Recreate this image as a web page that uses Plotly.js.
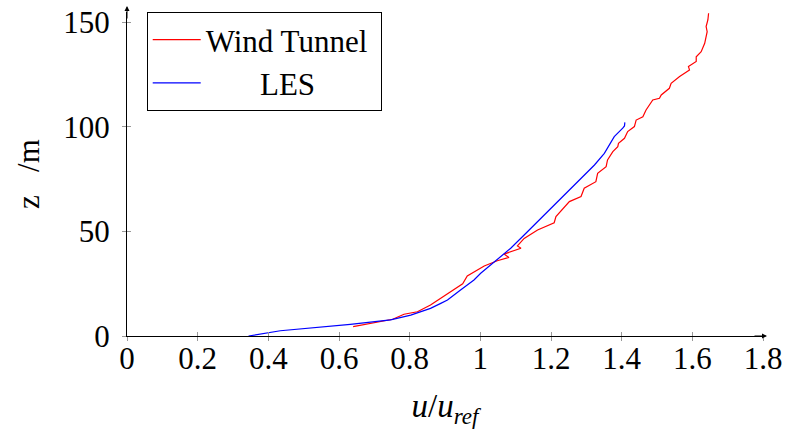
<!DOCTYPE html>
<html>
<head>
<meta charset="utf-8">
<script src="https://cdn.plot.ly/plotly-3.0.1.min.js"></script>
<style>html,body{margin:0;padding:0;background:#fff;}#chart{width:785px;height:438px;}</style>
</head>
<body>
<div id="chart"></div>
<script>
// Wind tunnel profile (u/u_ref, z in m)
const windU = [0.640,0.689,0.752,0.784,0.822,0.859,0.888,0.925,0.950,0.963,0.999,1.011,1.048,1.081,1.067,1.115,1.105,1.124,1.162,1.209,1.214,1.233,1.252,1.285,1.294,1.327,1.332,1.356,1.360,1.375,1.389,1.391,1.408,1.417,1.436,1.441,1.460,1.469,1.488,1.507,1.512,1.535,1.540,1.564,1.592,1.589,1.611,1.611,1.625,1.635,1.639,1.642,1.639,1.644,1.646];
const windZ = [4.5,6.1,8.0,10.4,11.6,14.8,18.0,22.0,25.0,28.7,32.4,33.5,36.0,37.6,39.2,42.0,43.1,46.7,50.7,54.2,57.1,60.5,64.3,66.7,70.7,73.8,77.8,81.0,84.2,88.2,90.6,92.2,94.6,97.8,100.2,103.3,104.9,108.1,112.9,113.7,115.3,118.5,120.9,124.1,127.3,128.9,131.3,133.6,136.0,140.0,143.2,145.6,148.0,151.2,154.4];
// LES profile
const lesU = [0.344,0.400,0.434,0.632,0.746,0.803,0.859,0.888,0.907,0.944,0.982,1.001,1.048,1.086,1.124,1.162,1.219,1.275,1.323,1.351,1.379,1.403,1.408,1.409];
const lesZ = [0,1.5,2.5,5.6,7.7,10.0,13.2,15.6,17.2,22.0,26.8,30.0,36.4,42.0,48.3,54.7,64.3,73.8,81.8,87.4,95.4,99.4,100.5,102.2];
const xTicks = [0,0.2,0.4,0.6,0.8,1,1.2,1.4,1.6,1.8];
const yTicks = [0,50,100,150];
const seriesNames = ['Wind Tunnel\u00a0', '\u00a0\u00a0\u00a0\u00a0\u00a0\u00a0\u00a0LES'];

const FONT = '"Liberation Serif", "Times New Roman", Times, serif';
const FS = 31;
const xRange = [0, 1.8];
const yRange = [0, 155];

const traces = [
  {x: windU, y: windZ, mode: 'lines', name: seriesNames[0], line: {color: '#ff0000', width: 1.2}},
  {x: lesU, y: lesZ, mode: 'lines', name: seriesNames[1], line: {color: '#0000ff', width: 1.2}},
  {x: [], y: [], xaxis: 'x2', yaxis: 'y2', showlegend: false, hoverinfo: 'skip'}
];

const layout = {
  width: 785, height: 438,
  margin: {l: 127, r: 22, t: 12, b: 102},
  paper_bgcolor: '#fff', plot_bgcolor: '#fff',
  font: {family: FONT, size: FS, color: '#000'},
  showlegend: true,
  legend: {x: 0.031, y: 1, xanchor: 'left', yanchor: 'top', bgcolor: '#fff', bordercolor: '#000', borderwidth: 1,
    font: {family: FONT, size: FS, color: '#000'}, tracegroupgap: 0, itemwidth: 48},
  xaxis: {range: xRange, tickvals: xTicks, ticks: 'outside', ticklen: 4, tickcolor: '#999', tickwidth: 1,
    showline: true, linecolor: '#000', linewidth: 1, showgrid: false, zeroline: false,
    tickfont: {family: FONT, size: FS}, ticklabelstandoff: -9,
    title: {text: '<i>u</i>/<i>u<sub>ref</sub></i>', font: {family: FONT, size: 33}, standoff: 18}},
  yaxis: {range: yRange, tickvals: yTicks, ticks: 'outside', ticklen: 4, tickcolor: '#999', tickwidth: 1,
    showline: true, linecolor: '#000', linewidth: 1, showgrid: false, zeroline: false,
    tickfont: {family: FONT, size: FS}, ticklabelstandoff: 6,
    title: {text: 'z\u00a0\u00a0\u00a0/m', font: {family: FONT, size: FS}, standoff: 14}},
  xaxis2: {range: xRange, tickvals: xTicks, overlaying: 'x', anchor: 'y2', ticks: 'inside', ticklen: 4, tickcolor: '#999', tickwidth: 1,
    showticklabels: false, showline: false, showgrid: false, zeroline: false},
  yaxis2: {range: yRange, tickvals: yTicks, overlaying: 'y', anchor: 'x2', ticks: 'inside', ticklen: 4, tickcolor: '#999', tickwidth: 1,
    showticklabels: false, showline: false, showgrid: false, zeroline: false},
  annotations: [
    {x: xRange[1], y: 0, xref: 'x', yref: 'y', text: '', showarrow: true, arrowhead: 2, arrowsize: 1, arrowwidth: 1, arrowcolor: '#000', ax: -14, ay: 0, xshift: 4},
    {x: 0, y: yRange[1], xref: 'x', yref: 'y', text: '', showarrow: true, arrowhead: 2, arrowsize: 1, arrowwidth: 1, arrowcolor: '#000', ax: 0, ay: 14, yshift: 6}
  ]
};

Plotly.newPlot('chart', traces, layout, {displayModeBar: false, staticPlot: true});
</script>
</body>
</html>
